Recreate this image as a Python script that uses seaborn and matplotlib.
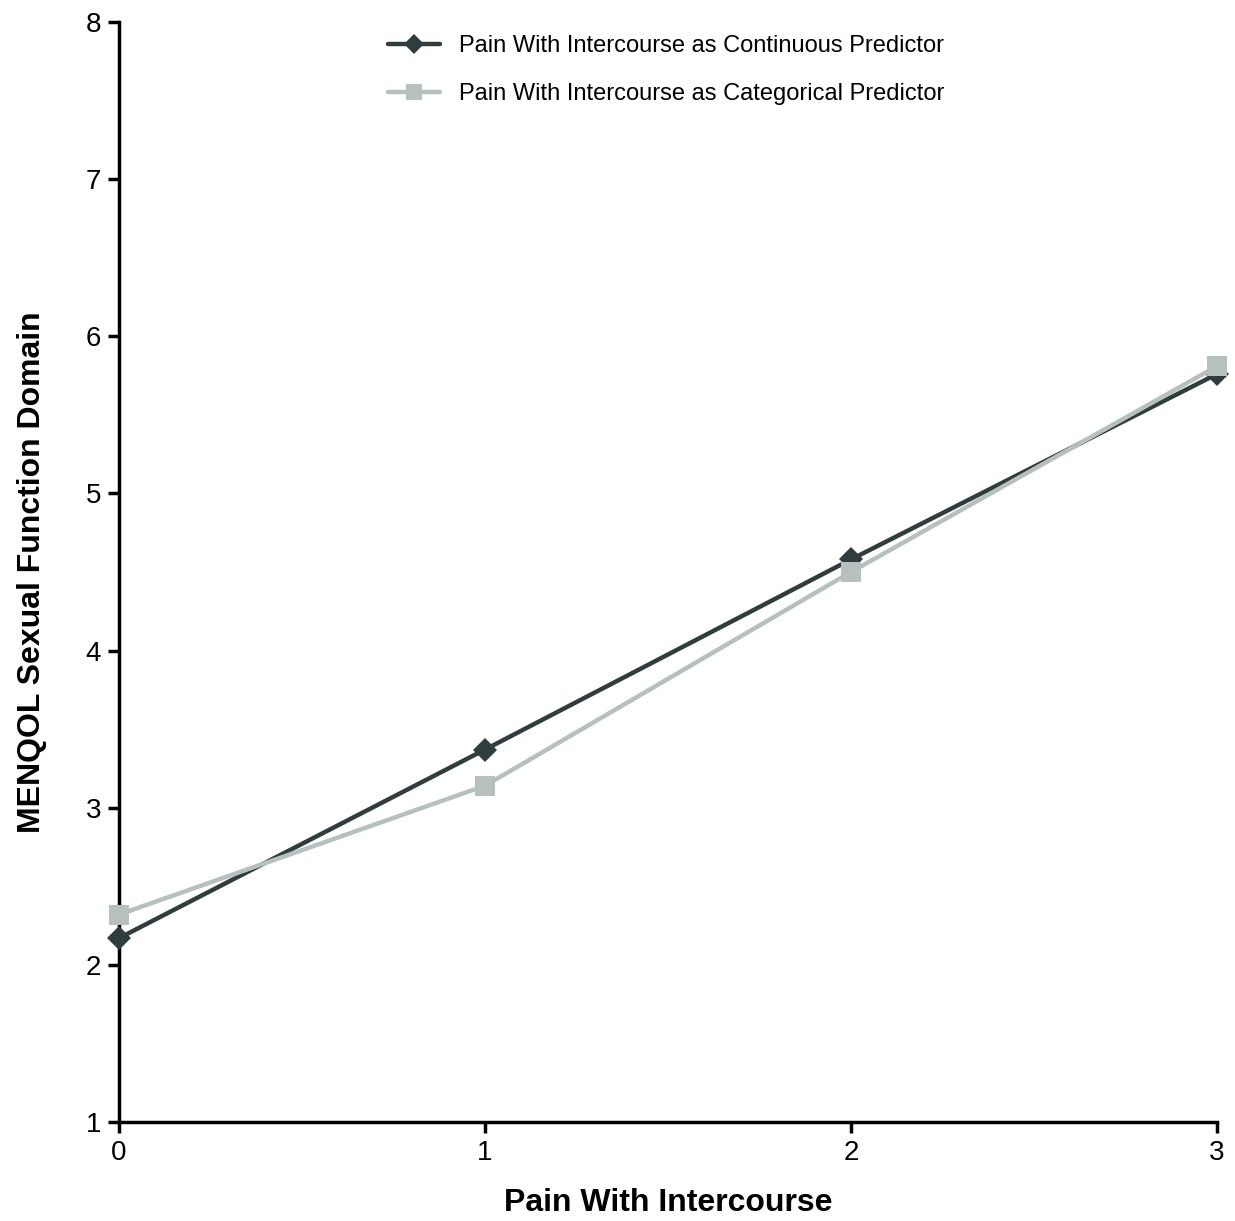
import matplotlib
matplotlib.use("Agg")
import matplotlib.pyplot as plt
import seaborn as sns
import pandas as pd

pain_levels = [0, 1, 2, 3]
continuous_vals = [2.17, 3.37, 4.58, 5.76]
categorical_vals = [2.32, 3.14, 4.50, 5.81]
series_names = ["Pain With Intercourse as Continuous Predictor",
                "Pain With Intercourse as Categorical Predictor"]

sns.set_theme(style="white")
plt.rcParams['font.family'] = ['Liberation Sans', 'DejaVu Sans']
plt.rcParams['text.color'] = 'black'
plt.rcParams['axes.labelcolor'] = 'black'

df = pd.concat([
    pd.DataFrame({"x": pain_levels, "y": continuous_vals, "s": series_names[0]}),
    pd.DataFrame({"x": pain_levels, "y": categorical_vals, "s": series_names[1]}),
])

fig = plt.figure(figsize=(12.35, 12.21), dpi=100)
ax = fig.add_axes([119/1235, (1221-1122)/1221, (1217-119)/1235, (1122-22)/1221])

dark = "#2f3d3e"
light = "#b6c1be"
sns.lineplot(data=df, x="x", y="y", hue="s", style="s",
             palette={series_names[0]: dark, series_names[1]: light},
             markers={series_names[0]: "D", series_names[1]: "s"},
             dashes=False, linewidth=3.2, markersize=14,
             markeredgewidth=0, ax=ax, clip_on=False, zorder=3)
for i, ln in enumerate(ax.lines):
    ln.set_clip_on(False)
    ln.set_zorder(3 + i)
    if ln.get_marker() == "D":
        ln.set_markersize(12)

ax.set_xlim(0, 3)
ax.set_ylim(1, 8)
ax.set_xticks([0, 1, 2, 3])
ax.set_yticks(range(1, 9))
for s in ["top", "right"]:
    ax.spines[s].set_visible(False)
for s in ["left", "bottom"]:
    ax.spines[s].set_color("black")
    ax.spines[s].set_linewidth(2.5)
ax.tick_params(axis="both", direction="out", length=8, width=2.5, colors="black",
               labelsize=20, pad=5, left=True, bottom=True)
ax.set_xlabel("Pain With Intercourse", fontsize=23, fontweight="bold", labelpad=16)
ax.set_ylabel("MENQOL Sexual Function Domain", fontsize=23, fontweight="bold", labelpad=28)

leg = ax.legend(loc="upper center", bbox_to_anchor=(0.498, 1.0075), frameon=False,
                fontsize=17, handlelength=2.2, handletextpad=0.8, labelspacing=1.1,
                title=None, markerscale=0.85)
for t in leg.get_texts():
    t.set_color("black")
fig.savefig("out.png", dpi=100)
